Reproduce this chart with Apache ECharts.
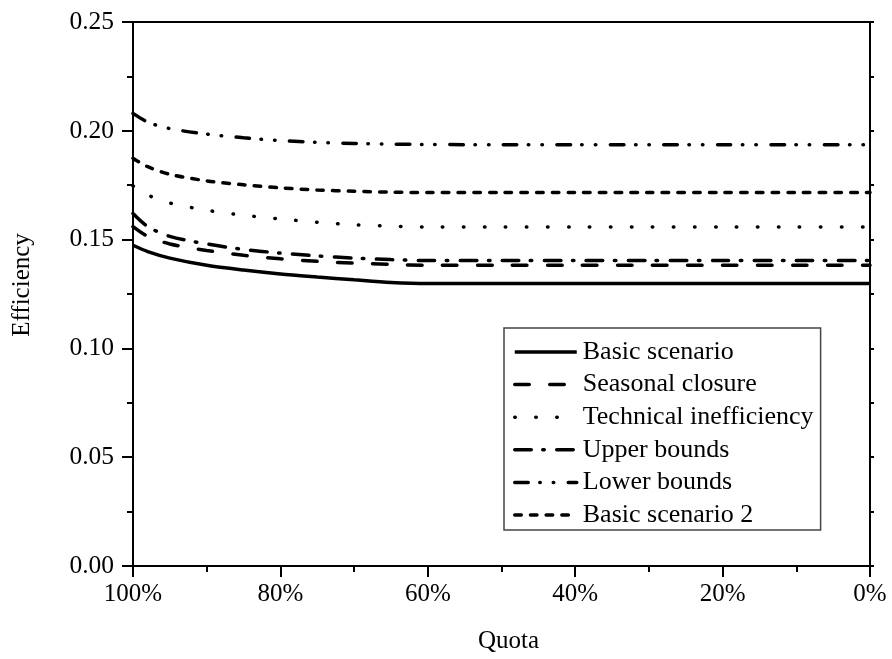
<!DOCTYPE html>
<html>
<head>
<meta charset="utf-8">
<script src="https://cdn.jsdelivr.net/npm/echarts@6/dist/echarts.min.js"></script>
<style>
html,body{margin:0;padding:0;background:#fff;}
#c{width:892px;height:659px;}
</style>
</head>
<body>
<div id="c"></div>
<script>
// Quota (%) sample positions
var quota = [100, 98, 95, 90, 85, 80, 75, 70, 65, 60, 50, 40, 30, 20, 10, 0];
var basicScenario         = [0.1474, 0.1445, 0.1415, 0.1382, 0.1360, 0.1342, 0.1328, 0.1315, 0.1303, 0.1298, 0.1298, 0.1298, 0.1298, 0.1298, 0.1298, 0.1298];
var seasonalClosure       = [0.1560, 0.1515, 0.1480, 0.1450, 0.1428, 0.1412, 0.1400, 0.1392, 0.1386, 0.1382, 0.1382, 0.1382, 0.1382, 0.1382, 0.1382, 0.1382];
var technicalInefficiency = [0.1747, 0.1705, 0.1668, 0.1635, 0.1612, 0.1595, 0.1580, 0.1568, 0.1562, 0.1558, 0.1558, 0.1558, 0.1558, 0.1558, 0.1558, 0.1558];
var upperBounds           = [0.1620, 0.1560, 0.1515, 0.1480, 0.1455, 0.1438, 0.1425, 0.1415, 0.1408, 0.1404, 0.1404, 0.1404, 0.1404, 0.1404, 0.1404, 0.1404];
var lowerBounds           = [0.2080, 0.2040, 0.2010, 0.1985, 0.1968, 0.1955, 0.1947, 0.1942, 0.1939, 0.1937, 0.1936, 0.1936, 0.1936, 0.1936, 0.1936, 0.1936];
var basicScenario2        = [0.1874, 0.1835, 0.1800, 0.1770, 0.1752, 0.1738, 0.1728, 0.1722, 0.1718, 0.1716, 0.1716, 0.1716, 0.1716, 0.1716, 0.1716, 0.1716];
var xTicks = [100, 80, 60, 40, 20, 0];
var yTicks = [0, 0.05, 0.10, 0.15, 0.20, 0.25];

function pairs(v){ return quota.map(function(q,i){ return [q, v[i]]; }); }

var font = 'Liberation Serif, Times New Roman, serif';
var chart = echarts.init(document.getElementById('c'), null, {renderer:'canvas'});

function mk(name, data, dash){
  return {
    name: name, type: 'line', data: pairs(data), symbol: 'none', smooth: 0.3,
    lineStyle: {color: '#000', width: 3.5, type: dash, cap: dash === 'solid' ? 'butt' : 'round'},
    itemStyle: {color: '#000'}
  };
}

var axisLineStyle = {show: true, onZero: false, lineStyle: {color: '#000', width: 2}};

chart.setOption({
  animation: false,
  backgroundColor: '#fff',
  grid: {left: 133, right: 22, top: 22, bottom: 93, containLabel: false},
  legend: {
    orient: 'vertical', left: 504, top: 328,
    itemWidth: 62, itemHeight: 18, itemGap: 6.6,
    padding: [11, 7, 2, 9],
    borderColor: '#444', borderWidth: 1.5,
    itemStyle: {opacity: 0},
    lineStyle: {width: 3.5},
    textStyle: {fontFamily: font, fontSize: 26, color: '#000', padding: [0,0,0,1]},
    data: ['Basic scenario','Seasonal closure','Technical inefficiency','Upper bounds','Lower bounds','Basic scenario 2']
  },
  xAxis: [
    {
      type: 'value', min: xTicks[xTicks.length-1], max: xTicks[0], interval: 20, inverse: true,
      name: 'Quota', nameLocation: 'middle', nameGap: 63,
      nameTextStyle: {fontFamily: font, fontSize: 25, color: '#000', padding: [0,0,0,14]},
      axisLine: axisLineStyle, splitLine: {show: false},
      axisTick: {show: true, inside: false, length: 11, lineStyle: {color: '#000', width: 2}},
      minorTick: {show: true, splitNumber: 2, length: 6, lineStyle: {color: '#000', width: 2}},
      minorSplitLine: {show: false},
      axisLabel: {fontFamily: font, fontSize: 25, color: '#000', margin: 16, formatter: '{value}%'}
    },
    {
      type: 'value', position: 'top', min: 0, max: 100, inverse: true,
      axisLine: axisLineStyle, splitLine: {show: false},
      axisTick: {show: false}, axisLabel: {show: false}
    }
  ],
  yAxis: [
    {
      type: 'value', min: yTicks[0], max: yTicks[yTicks.length-1], interval: 0.05,
      name: 'Efficiency', nameLocation: 'middle', nameGap: 98,
      nameTextStyle: {fontFamily: font, fontSize: 25, color: '#000', padding: [0,0,0,18]},
      axisLine: axisLineStyle, splitLine: {show: false},
      axisTick: {show: true, inside: false, length: 11, lineStyle: {color: '#000', width: 2}},
      minorTick: {show: true, splitNumber: 2, length: 6, lineStyle: {color: '#000', width: 2}},
      axisLabel: {fontFamily: font, fontSize: 25.5, color: '#000', margin: 19,
        formatter: function(v){ return v.toFixed(2); }}
    },
    {
      type: 'value', position: 'right', min: 0, max: 0.25, interval: 0.05,
      axisLine: axisLineStyle, splitLine: {show: false},
      axisTick: {show: true, inside: false, length: 4, lineStyle: {color: '#000', width: 2}},
      minorTick: {show: true, splitNumber: 2, length: 4, lineStyle: {color: '#000', width: 2}},
      axisLabel: {show: false}
    }
  ],
  series: [
    mk('Basic scenario', basicScenario, 'solid'),
    mk('Seasonal closure', seasonalClosure, [14.5, 20.5]),
    mk('Technical inefficiency', technicalInefficiency, [0.5, 20.5]),
    mk('Upper bounds', upperBounds, [16.5, 11.5, 1.5, 12.5]),
    mk('Lower bounds', lowerBounds, [13.5, 11.5, 0.5, 13, 0.5, 14.5]),
    mk('Basic scenario 2', basicScenario2, [6.5, 9.2])
  ]
});
</script>
</body>
</html>
